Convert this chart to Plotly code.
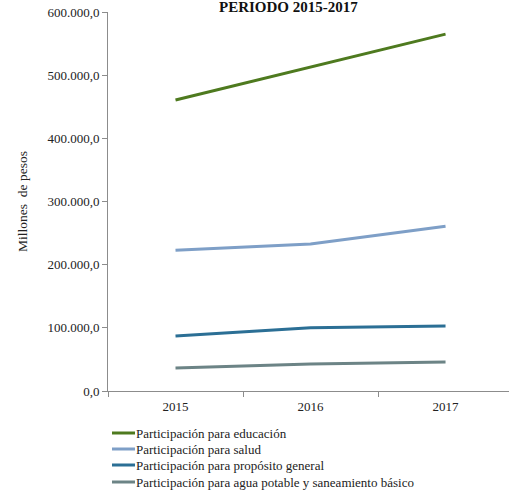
import plotly.graph_objects as go

years = ["2015", "2016", "2017"]
educacion = [460700, 513000, 565000]
salud = [223000, 232700, 261000]
proposito = [87000, 100000, 103000]
agua = [36400, 42700, 45900]

names = [
    "Participación para educación",
    "Participación para salud",
    "Participación para propósito general",
    "Participación para agua potable y saneamiento básico",
]
colors = ["#4E7A1F", "#7E9FC7", "#2B6F95", "#6C8486"]
series = [educacion, salud, proposito, agua]

SERIF = "Liberation Serif, Times New Roman, serif"

W, H = 509, 496
L, R, T, B = 108, 0, 12, 105
pw, ph = W - L - R, H - T - B


def px_x(x):
    return (x - L) / pw


def px_y(y):
    return (H - B - y) / ph


fig = go.Figure()

for name, values, color in zip(names, series, colors):
    fig.add_trace(
        go.Scatter(
            x=years,
            y=values,
            mode="lines",
            name=name,
            line=dict(width=3, color=color),
        )
    )

# legend drawn below the axis, tight rows like the original
legend_rows = [433, 449, 465, 482]
for name, color, row in zip(names, colors, legend_rows):
    fig.add_shape(
        type="line",
        xref="paper", yref="paper",
        x0=px_x(112), x1=px_x(135),
        y0=px_y(row), y1=px_y(row),
        line=dict(color=color, width=3),
    )
    fig.add_annotation(
        text=name,
        xref="paper", yref="paper",
        x=px_x(134), y=px_y(row),
        xanchor="left", yanchor="middle",
        showarrow=False,
        font=dict(family=SERIF, size=13, color="#222"),
    )

fig.add_annotation(
    text="<b>PERIODO 2015-2017</b>",
    xref="paper", yref="paper",
    x=px_x(288), y=px_y(7),
    xanchor="center", yanchor="middle",
    showarrow=False,
    font=dict(family=SERIF, size=15, color="#111"),
)

fig.update_layout(
    width=W,
    height=H,
    margin=dict(l=L, r=R, t=T, b=B, autoexpand=False),
    paper_bgcolor="white",
    plot_bgcolor="white",
    separators=",.",
    font=dict(family=SERIF, size=13, color="#222"),
    showlegend=False,
)

fig.update_xaxes(
    type="category",
    range=[-0.5, 2.47],
    showline=True,
    linecolor="#8c8c8c",
    linewidth=1,
    ticks="outside",
    tickson="boundaries",
    ticklen=5,
    tickcolor="#8c8c8c",
    ticklabelstandoff=3,
    showgrid=False,
    zeroline=False,
)

fig.update_yaxes(
    range=[0, 600000],
    dtick=100000,
    tickformat=",.1f",
    ticklabeloverflow="allow",
    showline=True,
    linecolor="#8c8c8c",
    linewidth=1,
    ticks="outside",
    ticklen=5,
    tickcolor="#8c8c8c",
    showgrid=False,
    zeroline=False,
    title=dict(text="Millones  de pesos", standoff=16,
               font=dict(family=SERIF, size=13.5)),
)

# drop the default 8px page margin so the chart sits at the window corner
fig.write_html(
    "out.html",
    config={"displayModeBar": False},
    post_script="document.body.style.margin='0';",
)
